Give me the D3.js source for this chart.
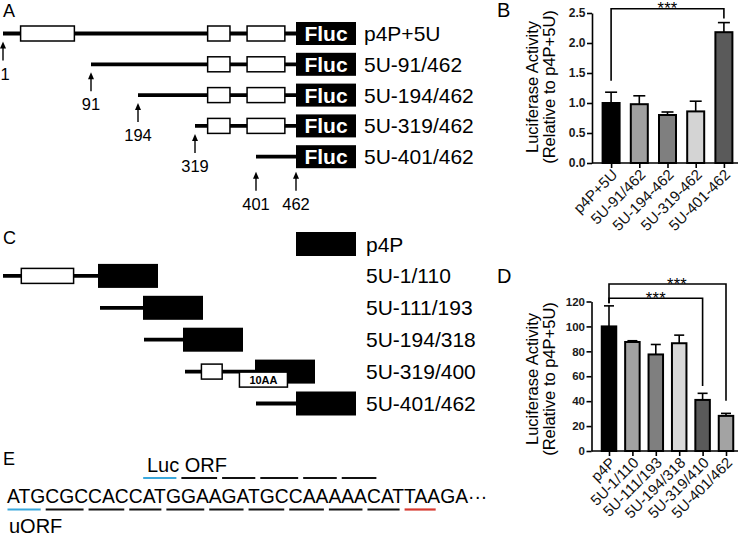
<!DOCTYPE html>
<html>
<head>
<meta charset="utf-8">
<script src="https://cdn.jsdelivr.net/npm/d3@7"></script>
<style>
  body { margin: 0; background: #fff; }
  svg { display: block; font-family: "Liberation Sans", Arial, Helvetica, sans-serif; }
</style>
</head>
<body>
<svg id="fig" width="744" height="537"></svg>
<script>
// ---- panel B: luciferase activity of 5' deletions ----
var bNames  = ["p4P+5U", "5U-91/462", "5U-194-462", "5U-319-462", "5U-401-462"];
var bValues = [1.0, 0.98, 0.80, 0.86, 2.18];
var bErrors = [0.18, 0.14, 0.05, 0.17, 0.16];
var bColors = ["#000000", "#a0a0a0", "#7f7f7f", "#d4d4d4", "#5a5a5a"];
var bTicks  = [0, 0.5, 1.0, 1.5, 2.0, 2.5];
var bSig    = [{ from: 0, to: 4, level: 2.57, leftEnd: 1.37, rightEnd: 2.41, label: "***", shift: 0 }];

// ---- panel D: luciferase activity of fragments ----
var dNames  = ["p4P", "5U-1/110", "5U-111/193", "5U-194/318", "5U-319/410", "5U-401/462"];
var dValues = [100, 87.5, 77.5, 86.5, 41, 28.2];
var dErrors = [16.5, 1.0, 8.0, 6.5, 5.3, 2.0];
var dColors = ["#000000", "#a3a3a3", "#7f7f7f", "#d8d8d8", "#5a5a5a", "#a3a3a3"];
var dTicks  = [0, 20, 40, 60, 80, 100, 120];
var dSig    = [
  { from: 0, to: 5, level: 134, leftEnd: 118.5, rightEnd: 40.4, label: "***", shift: 9.5 },
  { from: 0, to: 4, level: 122.6, leftEnd: 118.5, rightEnd: 52.2, label: "***", shift: 0 }
];

// ---- panel A: constructs (nucleotide positions in the 462 nt 5'UTR) ----
var aNames  = ["p4P+5U", "5U-91/462", "5U-194/462", "5U-319/462", "5U-401/462"];
var aStarts = [1, 91, 194, 319, 401];
var aBoxes  = [
  [[19, 74], [336, 366], [389, 445]],
  [[336, 366], [389, 445]],
  [[336, 366], [389, 445]],
  [[336, 366], [389, 445]],
  []
];
var aMarks    = [1, 91, 194, 319, 401, 462];
var aMarkRows = [0, 1, 2, 3, 4, 4];

// ---- panel C: fragments fused to the reporter ----
var cNames  = ["p4P", "5U-1/110", "5U-111/193", "5U-194/318", "5U-319/400", "5U-401/462"];
var cStarts = [null, 1, 111, 194, 319, 401];
var cEnds   = [462, 110, 193, 318, 400, 462];
var cBoxes  = [[], [[22, 82]], [], [], [[338, 362]], []];
var cTags   = [null, null, null, null, { at: 382, text: "10AA" }, null];

// ---- panel E: sequence and reading frames ----
var seq = "ATGCGCCACCATGGAAGATGCCAAAAACATTAAGA";
var uorfCodons   = [0, 3, 6, 9, 12, 15, 18, 21, 24, 27, 30];
var uorfColors   = ["#3aa8dc", "#111", "#111", "#111", "#111", "#111", "#111", "#111", "#111", "#111", "#d63a30"];
var lucCodons    = [10, 13, 16, 19, 22, 25];
var lucColors    = ["#3aa8dc", "#111", "#111", "#111", "#111", "#111"];

var svg = d3.select("#fig");
svg.append("rect").attr("width", 744).attr("height", 537).attr("fill", "#fff");

function label(t, x, y, size) {
  return svg.append("text").attr("x", x).attr("y", y).style("font-size", size + "px").text(t);
}

// panel letters
label("A", 3, 17, 18);
label("B", 497, 17, 20);
label("C", 3, 243.5, 18);
label("D", 497, 283, 20);
label("E", 3, 465, 18);

// ================= bar charts =================
function drawBarChart(o) {
  var g = svg.append("g");
  var x = d3.scalePoint().domain(o.names).range(o.xRange).padding(0.5);
  var y = d3.scaleLinear().domain([0, o.max]).range(o.yRange);
  var rows = o.names.map(function(n, i) {
    return { name: n, value: o.values[i], err: o.errors[i], color: o.colors[i] };
  });

  g.selectAll("rect.bar").data(rows).enter().append("rect")
    .attr("class", "bar")
    .attr("x", function(d) { return x(d.name) - o.barW / 2; })
    .attr("y", function(d) { return y(d.value); })
    .attr("width", o.barW)
    .attr("height", function(d) { return y(0) - y(d.value); })
    .attr("fill", function(d) { return d.color; })
    .attr("stroke", "#000").attr("stroke-width", 2);

  // error bars (upper only)
  var eb = g.selectAll("g.err").data(rows).enter().append("g").attr("class", "err")
    .attr("stroke", "#000").attr("stroke-width", 1.6);
  eb.append("line")
    .attr("x1", function(d) { return x(d.name); })
    .attr("x2", function(d) { return x(d.name); })
    .attr("y1", function(d) { return y(d.value); })
    .attr("y2", function(d) { return y(d.value + d.err); });
  eb.append("line")
    .attr("x1", function(d) { return x(d.name) - o.capW / 2; })
    .attr("x2", function(d) { return x(d.name) + o.capW / 2; })
    .attr("y1", function(d) { return y(d.value + d.err); })
    .attr("y2", function(d) { return y(d.value + d.err); });

  // y axis
  var ya = g.append("g").attr("transform", "translate(" + o.axisX + ",0)")
    .call(d3.axisLeft(y).tickValues(o.ticks).tickSize(5).tickSizeOuter(0).tickPadding(1.5).tickFormat(o.fmt));
  ya.attr("font-family", null).attr("font-size", null);
  ya.select(".domain").attr("stroke-width", 1.6);
  ya.selectAll(".tick line").attr("stroke-width", 1.6);
  ya.selectAll(".tick text").style("font-size", o.tickSize + "px").style("font-weight", "bold").attr("fill", "#1a1a1a");

  // x axis
  g.append("line").attr("x1", o.axisX).attr("x2", o.axisEnd)
    .attr("y1", y(0)).attr("y2", y(0)).attr("stroke", "#000").attr("stroke-width", 1.6);
  var xa = g.append("g").attr("transform", "translate(0," + y(0) + ")")
    .call(d3.axisBottom(x).tickSize(5).tickSizeOuter(0));
  xa.attr("font-family", null).attr("font-size", null);
  xa.select(".domain").remove();
  xa.selectAll(".tick line").attr("stroke-width", 1.6);
  xa.selectAll(".tick text")
    .attr("y", null).attr("dy", "0.35em")
    .attr("transform", "translate(3,9) rotate(-45)")
    .style("text-anchor", "end")
    .style("font-size", o.labelSize + "px")
    .attr("fill", "#111");

  // y title
  [["Luciferase Activity", o.titleX1], ["(Relative to p4P+5U)", o.titleX2]].forEach(function(t) {
    g.append("text")
      .attr("transform", "translate(" + t[1] + "," + o.titleY + ") rotate(-90)")
      .style("text-anchor", "middle").style("font-size", "16.5px")
      .text(t[0]);
  });

  // significance brackets
  o.sig.forEach(function(s) {
    var x1 = x(o.names[s.from]), x2 = x(o.names[s.to]);
    g.append("path")
      .attr("d", "M" + x1 + "," + y(s.leftEnd) + "V" + y(s.level) + "H" + x2 + "V" + y(s.rightEnd))
      .attr("fill", "none").attr("stroke", "#000").attr("stroke-width", 1.6);
    g.append("text").attr("x", (x1 + x2) / 2 + s.shift).attr("y", y(s.level) + 5.5)
      .style("text-anchor", "middle").style("font-size", "16.5px").style("letter-spacing", "0.3px")
      .text(s.label);
  });
}

drawBarChart({
  names: bNames, values: bValues, errors: bErrors, colors: bColors, ticks: bTicks, sig: bSig,
  max: 2.5, xRange: [597, 738], yRange: [163, 13], barW: 17, capW: 12,
  axisX: 592, axisEnd: 738, fmt: d3.format(".1f"), tickSize: 12, labelSize: 15,
  titleX1: 538, titleX2: 555, titleY: 87
});

drawBarChart({
  names: dNames, values: dValues, errors: dErrors, colors: dColors, ticks: dTicks, sig: dSig,
  max: 120, xRange: [597.3, 737.7], yRange: [451, 301.5], barW: 14.5, capW: 10,
  axisX: 591.5, axisEnd: 738, fmt: d3.format("d"), tickSize: 11.5, labelSize: 15,
  titleX1: 538, titleX2: 555, titleY: 379
});

// ================= panel A =================
var aX = d3.scaleLinear().domain([1, 91, 194, 319, 401, 462]).range([3, 91, 138, 195, 256, 296]);
function aRowY(i) { return 33.5 + i * 30.8; }
var reporterW = 60;

var aG = svg.append("g");
aNames.forEach(function(name, i) {
  var cy = aRowY(i);
  aG.append("line").attr("x1", aX(aStarts[i])).attr("x2", aX(462))
    .attr("y1", cy).attr("y2", cy).attr("stroke", "#000").attr("stroke-width", 3.8);
  aG.selectAll(null).data(aBoxes[i]).enter().append("rect")
    .attr("x", function(b) { return aX(b[0]); })
    .attr("width", function(b) { return aX(b[1]) - aX(b[0]); })
    .attr("y", cy - 7.5).attr("height", 15)
    .attr("fill", "#fff").attr("stroke", "#000").attr("stroke-width", 1.5);
  aG.append("rect").attr("x", aX(462)).attr("width", reporterW)
    .attr("y", cy - 11.5).attr("height", 23).attr("fill", "#000");
  aG.append("text").attr("x", aX(462) + reporterW / 2).attr("y", cy + 7.5)
    .style("text-anchor", "middle").style("font-size", "21px").style("font-weight", "bold")
    .attr("fill", "#fff").text("Fluc");
  aG.append("text").attr("x", 364).attr("y", cy + 7.5).style("font-size", "21px").text(name);
});

// position arrows
aMarks.forEach(function(pos, k) {
  var r = aMarkRows[k];
  var px = aX(pos);
  var tip = aRowY(r) + (r === 4 ? 15 : 8);
  var tail = tip + 19;
  aG.append("line").attr("x1", px).attr("x2", px).attr("y1", tip + 4).attr("y2", tail)
    .attr("stroke", "#000").attr("stroke-width", 1.4);
  aG.append("path").attr("d", "M" + px + "," + tip + "L" + (px - 3) + "," + (tip + 7) + "L" + (px + 3) + "," + (tip + 7) + "Z")
    .attr("fill", "#000");
  aG.append("text").attr("x", Math.max(px, 5)).attr("y", tail + 19)
    .style("text-anchor", "middle").style("font-size", "16.5px").text(pos);
});

// ================= panel C =================
var cX = d3.scaleLinear()
  .domain([1, 110, 111, 193, 194, 318, 319, 400, 401, 462])
  .range([3, 98, 100, 143, 144, 183, 185, 255, 256, 296]);
function cRowY(i) { return 244 + i * 31.9; }

var cG = svg.append("g");
cNames.forEach(function(name, i) {
  var cy = cRowY(i);
  if (cStarts[i] !== null) {
    cG.append("line").attr("x1", cX(cStarts[i])).attr("x2", cX(cEnds[i]))
      .attr("y1", cy).attr("y2", cy).attr("stroke", "#000").attr("stroke-width", 3.8);
  }
  cG.selectAll(null).data(cBoxes[i]).enter().append("rect")
    .attr("x", function(b) { return cX(b[0]); })
    .attr("width", function(b) { return cX(b[1]) - cX(b[0]); })
    .attr("y", cy - 7.5).attr("height", 15)
    .attr("fill", "#fff").attr("stroke", "#000").attr("stroke-width", 1.5);
  cG.append("rect").attr("x", cX(cEnds[i])).attr("width", reporterW)
    .attr("y", cy - 12).attr("height", 24).attr("fill", "#000");
  if (cTags[i]) {
    var tx = cX(cTags[i].at);
    cG.append("rect").attr("x", tx).attr("width", 48).attr("y", cy + 0.5).attr("height", 15)
      .attr("fill", "#fff").attr("stroke", "#000").attr("stroke-width", 1.5);
    cG.append("text").attr("x", tx + 24).attr("y", cy + 12.5)
      .style("text-anchor", "middle").style("font-size", "11px").style("font-weight", "bold")
      .text(cTags[i].text);
  }
  cG.append("text").attr("x", 366).attr("y", cy + 7.5).style("font-size", "21px").text(name);
});

// ================= panel E =================
var eG = svg.append("g");
eG.append("text").attr("x", 147).attr("y", 472).style("font-size", "20px").text("Luc ORF");
eG.append("text").attr("x", 9).attr("y", 533).style("font-size", "20px").text("uORF");
var seqText = eG.append("text").attr("x", 7).attr("y", 503).style("font-size", "19.3px")
  .text(seq + "\u00b7\u00b7\u00b7");
var sn = seqText.node();

function codonLines(starts, colors, yy) {
  eG.selectAll(null).data(starts).enter().append("line")
    .attr("x1", function(s) { return sn.getStartPositionOfChar(s).x + 0.5; })
    .attr("x2", function(s) { return sn.getEndPositionOfChar(s + 2).x - 4.5; })
    .attr("y1", yy).attr("y2", yy)
    .attr("stroke", function(s, i) { return colors[i]; })
    .attr("stroke-width", 2.2);
}
codonLines(uorfCodons, uorfColors, 509.5);
codonLines(lucCodons, lucColors, 478);
</script>
</body>
</html>
